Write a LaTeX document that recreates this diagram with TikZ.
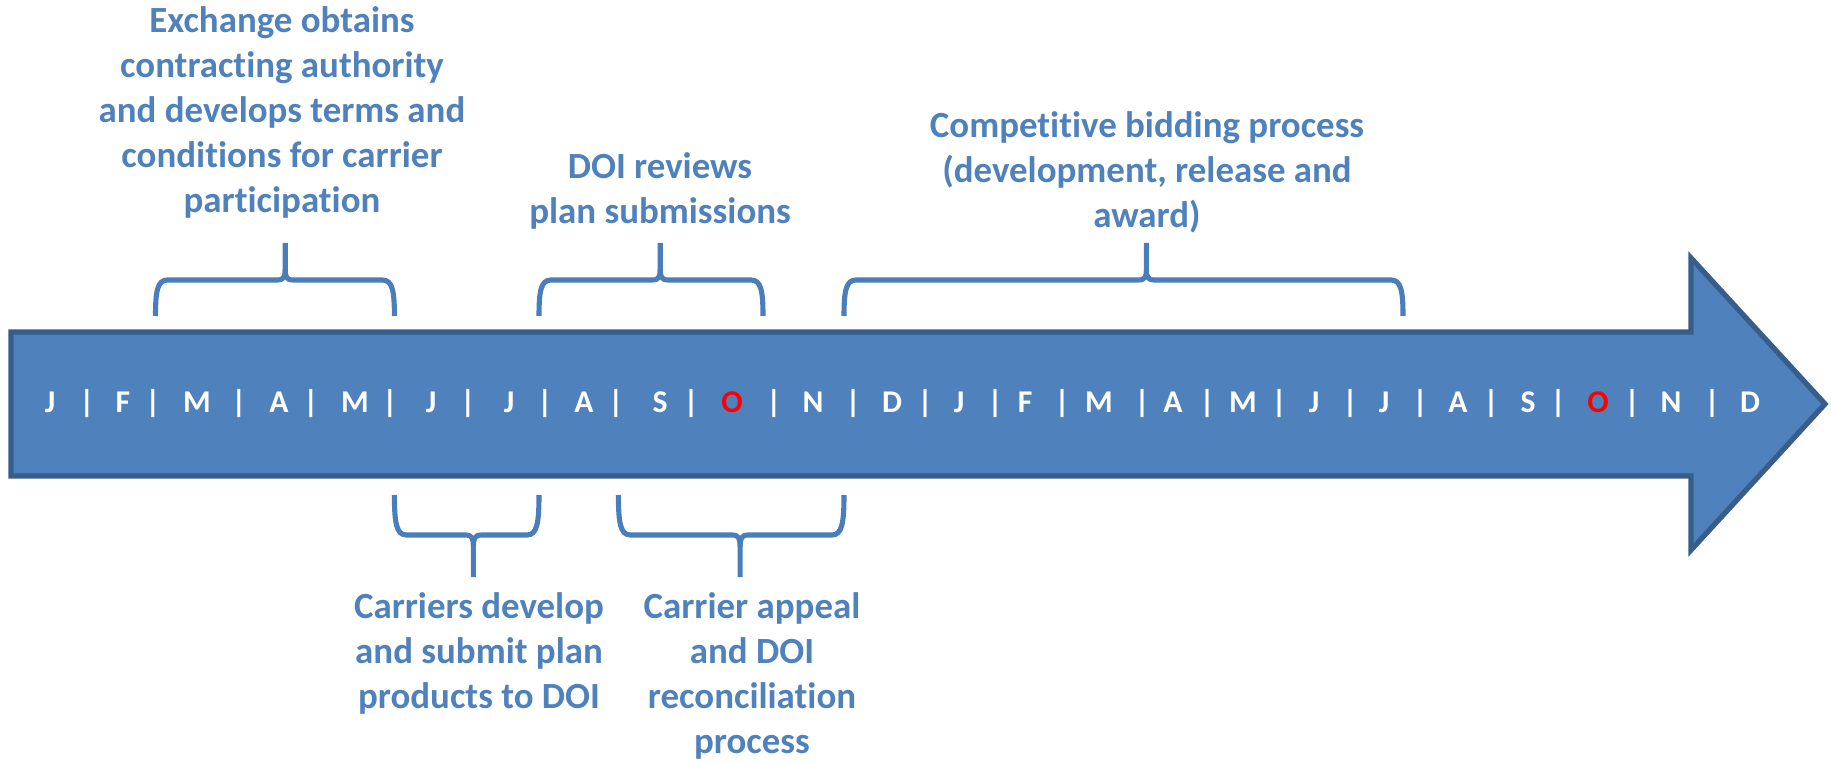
\documentclass[tikz,border=0pt]{standalone}
\usepackage{fontspec}
\setmainfont{Carlito}[Ligatures=NoCommon]
\usepackage{xcolor}
\usepackage{tikz}
\usetikzlibrary{positioning,calc}
\definecolor{arrowfill}{HTML}{4F81BD}
\definecolor{arrowline}{HTML}{385D8A}
\definecolor{labelblue}{HTML}{4F81BD}
\definecolor{bracecol}{HTML}{4A7EBB}

\begin{document}
\begin{tikzpicture}[
    timeline/.style={fill=arrowfill, draw=arrowline, line width=1.5pt, line join=miter},
    month/.style={anchor=base, inner sep=0pt, font=\fontsize{9}{10}\selectfont\bfseries},
    brace line/.style={draw=bracecol, line width=1.45pt},
    phase/.style={align=center, text=labelblue, inner sep=0pt, font=\fontsize{10.5}{12.8}\selectfont\bfseries}
]
    \useasboundingbox (0,0) rectangle (18.31,7.62);

    % Timeline arrow
    \draw[timeline] (0.11,2.86) -- (0.11,4.30) -- (16.91,4.30) -- (16.91,5.04)
        -- (18.25,3.58) -- (16.91,2.12) -- (16.91,2.86) -- cycle;

    % Months
    \foreach \x/\m/\c [count=\i] in {0.50/J/white, 1.23/F/white, 1.97/M/white, 2.79/A/white,
        3.55/M/white, 4.31/J/white, 5.09/J/white, 5.84/A/white, 6.60/S/white, 7.32/O/red,
        8.13/N/white, 8.92/D/white, 9.59/J/white, 10.25/F/white, 10.99/M/white, 11.73/A/white,
        12.43/M/white, 13.14/J/white, 13.84/J/white, 14.58/A/white, 15.28/S/white, 15.98/O/red,
        16.71/N/white, 17.50/D/white}
        \node[month, text=\c] (m\i) at (\x,3.49) {\m};
    \foreach \x [count=\i] in {0.87, 1.53, 2.39, 3.11, 3.90, 4.68, 5.45, 6.16, 6.91, 7.74, 8.53,
        9.25, 9.95, 10.62, 11.42, 12.07, 12.79, 13.50, 14.20, 14.91, 15.58, 16.32, 17.12}
        \node[month, text=white] (s\i) at (\x,3.49) {|};

    % Braces (left leg / right leg / tip / leg end / height / tip height)
    \foreach \xa/\xb/\xt/\ye/\h/\p in {1.555/3.944/2.852/4.46/0.36/0.73,
        5.39/7.63/6.602/4.46/0.36/0.73, 8.44/14.03/11.464/4.46/0.36/0.73,
        3.944/5.39/4.734/2.67/-0.40/-0.82, 6.184/8.44/7.401/2.67/-0.40/-0.82} {
        \draw[brace line] (\xa,\ye) .. controls (\xa,\ye+0.7*\h) and (\xa+0.02,\ye+\h) .. (\xa+0.12,\ye+\h)
            -- (\xt-0.08,\ye+\h) .. controls (\xt-0.01,\ye+\h) and (\xt,\ye+1.1*\h) .. (\xt,\ye+1.3*\h)
            -- (\xt,\ye+\p);
        \draw[brace line] (\xb,\ye) .. controls (\xb,\ye+0.7*\h) and (\xb-0.02,\ye+\h) .. (\xb-0.12,\ye+\h)
            -- (\xt+0.08,\ye+\h) .. controls (\xt+0.01,\ye+\h) and (\xt,\ye+1.1*\h) .. (\xt,\ye+1.3*\h);
    }

    % Phase labels
    \node[phase] (exchange) at (2.82,6.50) {Exchange obtains\\contracting authority\\and develops terms and\\conditions for carrier\\participation};
    \node[phase] (review) at (6.60,5.71) {DOI reviews\\plan submissions};
    \node[phase] (bidding) at (11.47,5.90) {Competitive bidding process\\(development, release and\\award)};
    \node[phase] (submit) at (4.79,1.09) {Carriers develop\\and submit plan\\products to DOI};
    \node[phase] (appeal) at (7.52,0.86) {Carrier appeal\\and DOI\\reconciliation\\process};
\end{tikzpicture}
\end{document}
